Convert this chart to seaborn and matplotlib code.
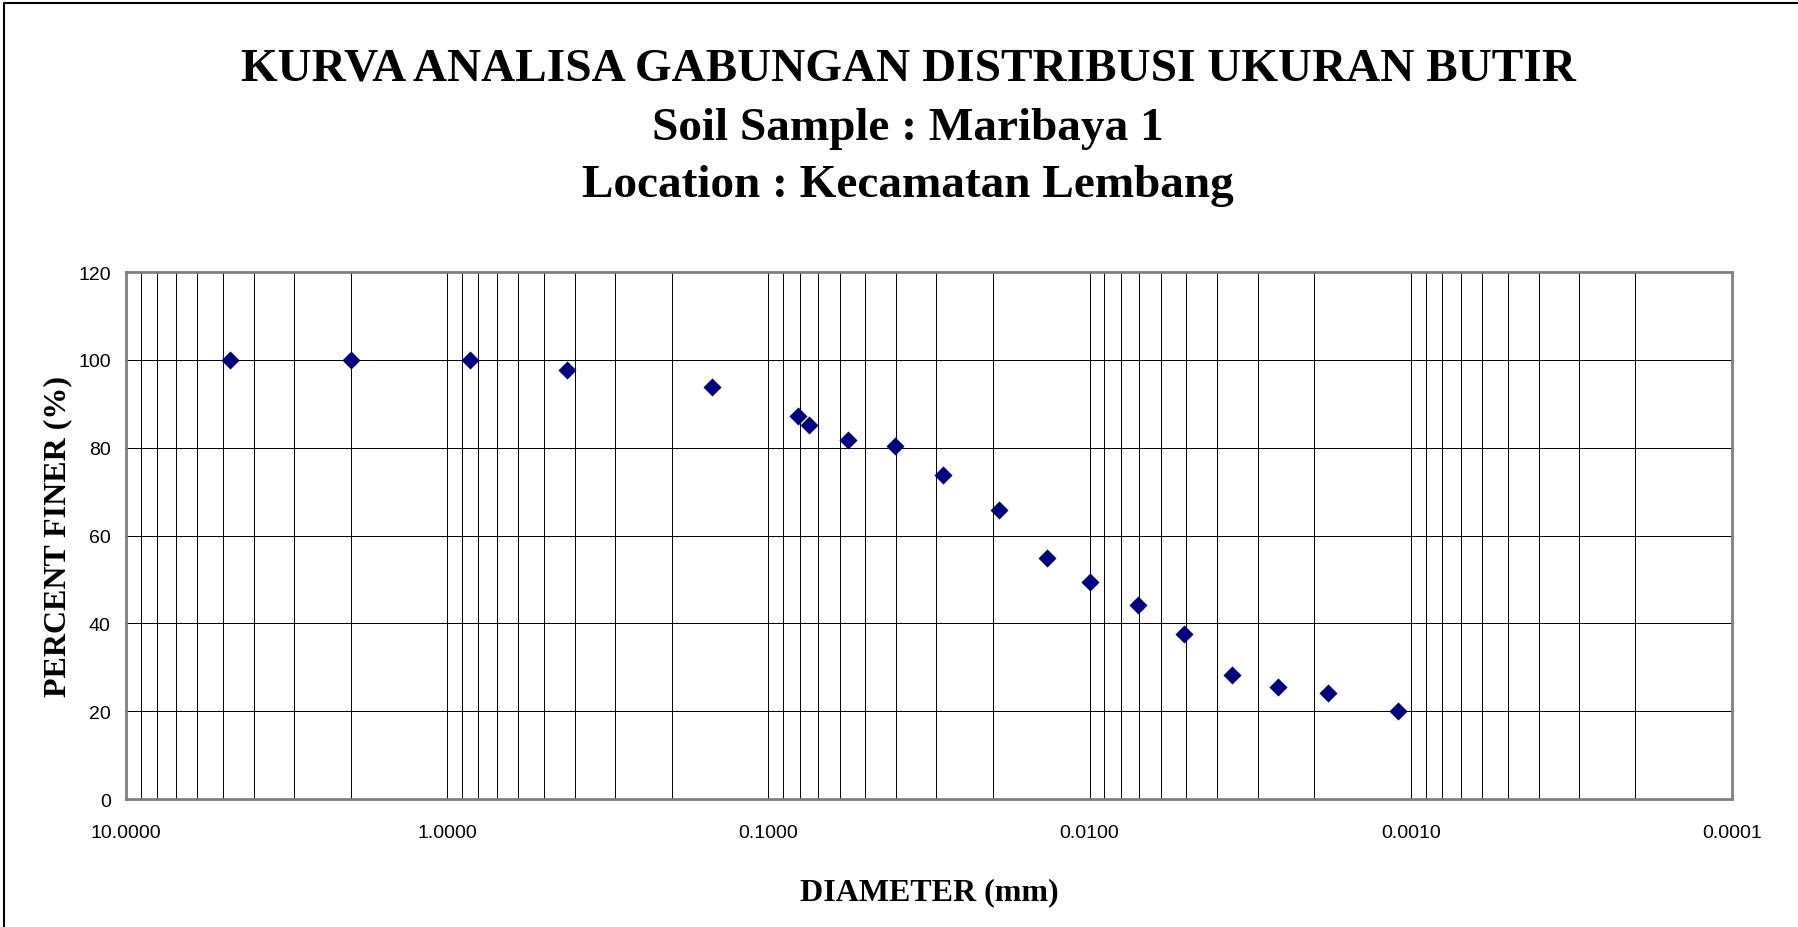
import numpy as np
import pandas as pd
import matplotlib
matplotlib.use("Agg")
import matplotlib.pyplot as plt
import seaborn as sns
from matplotlib.ticker import FixedLocator, FuncFormatter, NullFormatter

# grain size distribution (sieve + hydrometer)
diameter_mm = [4.75, 2.0, 0.85, 0.425, 0.15, 0.0808, 0.075, 0.0567, 0.0405,
               0.0287, 0.0191, 0.0136, 0.0100, 0.00708, 0.00509, 0.0036,
               0.00259, 0.00181, 0.0011]
percent_finer = [100.0, 100.0, 100.0, 97.7, 93.8, 87.2, 85.1, 81.8, 80.4,
                 73.7, 65.7, 54.9, 49.5, 44.2, 37.5, 28.2, 25.5, 24.2, 20.0]

x_major = [10, 1, 0.1, 0.01, 0.001, 0.0001]
y_ticks = [0, 20, 40, 60, 80, 100, 120]

df = pd.DataFrame({"diameter": diameter_mm, "finer": percent_finer})

sns.set_style("white")
plt.rcParams["font.family"] = ["Liberation Sans", "DejaVu Sans"]
plt.rcParams["text.color"] = "black"
plt.rcParams["axes.labelcolor"] = "black"
plt.rcParams["xtick.labelcolor"] = "black"
plt.rcParams["ytick.labelcolor"] = "black"

fig = plt.figure(figsize=(17.98, 9.28), dpi=100)
ax = fig.add_axes([0.0701, 0.1379, 0.8932, 0.5679])

sns.scatterplot(data=df, x="diameter", y="finer", marker="D", color="#000080",
                s=85, linewidth=0, ax=ax, zorder=3)

ax.set_xscale("log")
ax.set_xlim(10, 0.0001)
ax.set_ylim(0, 120)

ax.xaxis.set_major_locator(FixedLocator(x_major))
ax.xaxis.set_major_formatter(FuncFormatter(lambda v, p: f"{v:.4f}"))
minors = [m * d for d in x_major[1:] for m in range(2, 10)]
ax.xaxis.set_minor_locator(FixedLocator(minors))
ax.xaxis.set_minor_formatter(NullFormatter())
ax.set_yticks(y_ticks)

ax.grid(True, which="both", axis="x", color="black", linewidth=0.7)
ax.grid(True, which="major", axis="y", color="black", linewidth=0.7)

for sp in ax.spines.values():
    sp.set_color("#808080")
    sp.set_linewidth(2)

ax.tick_params(axis="both", which="major", direction="out", length=5, width=1,
               color="#808080", labelsize=14, pad=6)
ax.tick_params(axis="x", which="minor", length=0)
ax.tick_params(axis="x", which="major", pad=13)

serif = ["Liberation Serif", "DejaVu Serif"]
ax.set_xlabel("DIAMETER (mm)", fontsize=23, fontweight="bold", family=serif,
              labelpad=26)
ax.set_ylabel("PERCENT FINER (%)", fontsize=23, fontweight="bold", family=serif,
              labelpad=4)

fig.text(0.505, 0.925, "KURVA ANALISA GABUNGAN DISTRIBUSI UKURAN BUTIR",
         ha="center", va="center", fontsize=34, fontweight="bold", family=serif)
fig.text(0.505, 0.861, "Soil Sample : Maribaya 1", ha="center", va="center",
         fontsize=34, fontweight="bold", family=serif)
fig.text(0.505, 0.800, "Location : Kecamatan Lembang", ha="center", va="center",
         fontsize=34, fontweight="bold", family=serif)

# chart frame (top and left edges visible)
fig.add_artist(plt.Line2D([0.002, 1.0], [0.996, 0.996], color="black", linewidth=1.5,
                          transform=fig.transFigure))
fig.add_artist(plt.Line2D([0.002, 0.002], [0.0, 0.996], color="black", linewidth=1.5,
                          transform=fig.transFigure))

fig.savefig("out.png", dpi=100)
